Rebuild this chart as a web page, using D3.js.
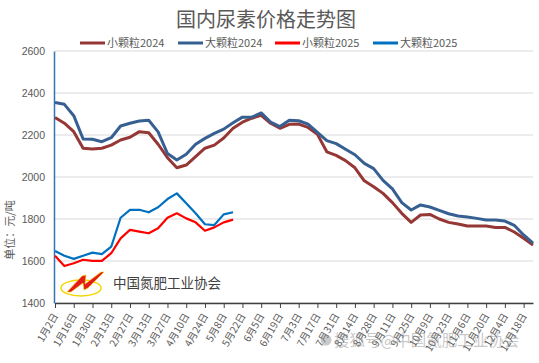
<!DOCTYPE html>
<html>
<head>
	<meta charset="utf-8">
	<title>国内尿素价格走势图</title>
	<script type="text/javascript" src="https://cdn.jsdelivr.net/npm/d3@7/dist/d3.min.js"></script>
	<style>
		body{margin:0;background:#fff;}
		text{font-family:"Noto Sans CJK SC","Liberation Sans",sans-serif;}
	</style>
</head>
<body>
	<svg width="539" height="363"></svg>
	<script>
	/*数据准备：每周一个点，共52周*/
	var dates=["1月2日","1月9日","1月16日","1月23日","1月30日","2月6日","2月13日","2月20日","2月27日",
		"3月6日","3月13日","3月20日","3月27日","4月3日","4月10日","4月17日","4月24日",
		"5月1日","5月8日","5月15日","5月22日","5月29日","6月5日","6月12日","6月19日","6月26日",
		"7月3日","7月10日","7月17日","7月24日","7月31日","8月7日","8月14日","8月21日","8月28日",
		"9月4日","9月11日","9月18日","9月25日","10月2日","10月9日","10月16日","10月23日","10月30日",
		"11月6日","11月13日","11月20日","11月27日","12月4日","12月11日","12月18日","12月25日"];
	var small2024=[2283,2256,2216,2137,2133,2137,2152,2176,2189,2216,2211,2156,2092,2044,2057,2097,2137,2152,2186,2232,
		2261,2280,2294,2256,2232,2251,2252,2236,2203,2120,2103,2078,2044,1982,1954,1922,1878,1827,1784,1819,
		1822,1800,1784,1776,1767,1767,1767,1760,1760,1738,1708,1676];
	var large2024=[2355,2346,2292,2181,2180,2168,2187,2243,2256,2267,2270,2215,2112,2081,2108,2156,2184,2208,2228,2258,
		2285,2285,2305,2262,2240,2270,2268,2252,2213,2173,2159,2132,2106,2065,2040,1984,1943,1878,1843,1867,
		1857,1841,1825,1814,1810,1803,1795,1795,1790,1770,1724,1685];
	var small2025=[1625,1576,1589,1606,1601,1601,1637,1708,1748,1740,1732,1756,1806,1827,1803,1784,1744,1760,1784,1797];
	var large2025=[1648,1625,1610,1625,1640,1633,1668,1806,1843,1844,1832,1856,1895,1922,1875,1827,1775,1771,1822,1832];
	var yTicks=[1400,1600,1800,2000,2200,2400,2600];

	var series=[
		{name:"小颗粒2024",values:small2024,color:"#953735",width:3},
		{name:"大颗粒2024",values:large2024,color:"#376092",width:3},
		{name:"小颗粒2025",values:small2025,color:"#ff0000",width:2.2},
		{name:"大颗粒2025",values:large2025,color:"#0070c0",width:2.2}
	];

	var svg=d3.select("svg");
	var marge={top:51,bottom:60,left:55,right:6};
	var width=+svg.attr("width");
	var height=+svg.attr("height");

	/*比例尺*/
	var x=d3.scalePoint().domain(dates).range([marge.left,width-marge.right]);
	var y=d3.scaleLinear().domain([1400,2600]).range([height-marge.bottom,marge.top]);

	/*标题*/
	svg.append("text")
	.attr("x",266).attr("y",27)
	.attr("text-anchor","middle")
	.attr("font-size","20px")
	.attr("fill","#595959")
	.text("国内尿素价格走势图");

	/*图例*/
	var legendX=[80,178,275,373];
	var lg=svg.selectAll(".legend").data(series).enter().append("g")
	.attr("transform",function(d,i){return "translate("+legendX[i]+",43)";});
	lg.append("line").attr("x1",0).attr("x2",25).attr("y1",0).attr("y2",0)
	.attr("stroke",function(d){return d.color;}).attr("stroke-width",3);
	lg.append("text").attr("x",27).attr("y",4)
	.attr("font-size","11px").attr("fill","#595959")
	.text(function(d){return d.name;});

	/*网格线*/
	svg.append("g").selectAll("line").data(yTicks).enter().append("line")
	.attr("x1",marge.left).attr("x2",width-marge.right)
	.attr("y1",function(d){return y(d);}).attr("y2",function(d){return y(d);})
	.attr("stroke","#d9d9d9").attr("stroke-width",1);

	/*y轴*/
	var yAxis=svg.append("g")
	.attr("transform","translate("+(marge.left-1)+",0)")
	.call(d3.axisLeft(y).tickValues(yTicks).tickFormat(d3.format("d")).tickSize(0).tickPadding(9));
	yAxis.select(".domain").attr("stroke","#2e75b6").attr("stroke-width",1.5);
	yAxis.selectAll("text").attr("font-size","10.5px").attr("fill","#595959")
	.style("font-family","'Liberation Sans',sans-serif");

	/*y轴标题*/
	svg.append("text")
	.attr("transform","translate(14,230) rotate(-90)")
	.attr("text-anchor","middle")
	.attr("font-size","11px").attr("fill","#595959")
	.text("单位：元/吨");

	/*x轴，每两周一个刻度*/
	var xAxis=svg.append("g")
	.attr("transform","translate(0,"+y(1400)+")")
	.call(d3.axisBottom(x).tickValues(dates.filter(function(d,i){return i%2==0;})).tickSize(5).tickSizeOuter(0));
	xAxis.select(".domain").attr("stroke","#404040").attr("stroke-width",1.5);
	xAxis.selectAll(".tick line").attr("stroke","#404040");
	xAxis.selectAll("text")
	.attr("font-size","10px").attr("fill","#595959")
	.attr("text-anchor","end")
	.attr("dy","0.35em").attr("y",0).attr("x",0)
	.attr("transform","translate(0,11) rotate(-60)");

	/*折线*/
	var line=d3.line()
	.x(function(d,i){return x(dates[i]);})
	.y(function(d){return y(d);});
	svg.append("g").selectAll("path").data(series).enter().append("path")
	.attr("d",function(d){return line(d.values);})
	.attr("fill","none")
	.attr("stroke",function(d){return d.color;})
	.attr("stroke-width",function(d){return d.width;})
	.attr("stroke-linejoin","round");

	/*协会标志*/
	var logo=svg.append("g");
	logo.append("ellipse").attr("cx",81).attr("cy",288).attr("rx",20).attr("ry",8)
	.attr("fill","none").attr("stroke","#f2d600").attr("stroke-width",1.5);
	logo.append("path")
	.attr("d","M67,292 L82,276 L86,275 L85,284 L101,272 L104,272 L88,288 L84,290 L83,283 L71,292 Z")
	.attr("fill","#e31b1b").attr("stroke","#f2d600").attr("stroke-width",0.6);
	logo.append("text").attr("x",113).attr("y",288)
	.attr("font-size","13.5px").attr("fill","#404040")
	.text("中国氮肥工业协会");

	/*水印*/
	var wm=svg.append("g").attr("opacity",0.45);
	wm.append("circle").attr("cx",326).attr("cy",340).attr("r",5.5).attr("fill","#8a8a8a");
	wm.append("text").attr("x",334).attr("y",346)
	.attr("font-size","15.5px").attr("fill","#8a8a8a")
	.text("搜狐号@中国氮肥工业协会");
	</script>
</body>
</html>
